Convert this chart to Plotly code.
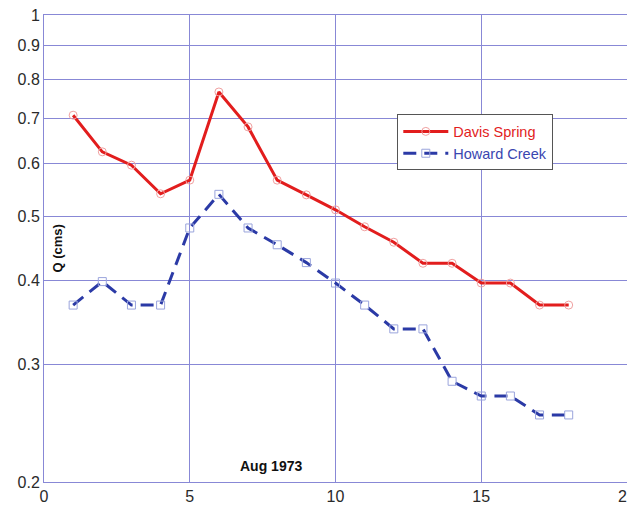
import plotly.graph_objects as go

days = list(range(1, 19))
davis_spring = [0.708, 0.624, 0.596, 0.540, 0.566, 0.767, 0.680, 0.566, 0.538, 0.511,
                0.482, 0.457, 0.425, 0.425, 0.397, 0.397, 0.368, 0.368]
howard_creek = [0.368, 0.399, 0.368, 0.368, 0.480, 0.539, 0.480, 0.453, 0.426, 0.397,
                0.368, 0.339, 0.339, 0.283, 0.269, 0.269, 0.252, 0.252]
y_ticks = [0.2, 0.3, 0.4, 0.5, 0.6, 0.7, 0.8, 0.9, 1]
y_tick_labels = ["0.2", "0.3", "0.4", "0.5", "0.6", "0.7", "0.8", "0.9", "1"]
x_ticks = [0, 5, 10, 15, 20]

grid = "#8888d6"
fig = go.Figure()
fig.add_trace(go.Scatter(
    x=days, y=davis_spring, name="<span style='color:#e21d1d'>Davis Spring</span>",
    mode="lines+markers",
    line=dict(color="#e21d1d", width=3),
    marker=dict(symbol="circle-open", size=8, color="#f0a0a0", line=dict(width=1)),
))
fig.add_trace(go.Scatter(
    x=days, y=howard_creek, name="<span style='color:#3a46b0'>Howard Creek</span>",
    mode="lines+markers",
    line=dict(color="#2b3aa6", width=3, dash="13px,8px"),
    marker=dict(symbol="square-open", size=8, color="#9aa4dc", line=dict(width=1)),
))

fig.update_layout(
    width=627, height=499,
    margin=dict(l=36, r=8, t=7, b=25, autoexpand=False),
    plot_bgcolor="white", paper_bgcolor="white",
    font=dict(family="Liberation Sans, Arial, sans-serif", size=16, color="#2a2a2a"),
    showlegend=True,
    legend=dict(x=0.606, y=0.787, xanchor="left", yanchor="top",
                bgcolor="white", bordercolor="#555555", borderwidth=1,
                font=dict(size=14.5), tracegroupgap=0, itemwidth=45),
    xaxis=dict(range=[0, 20], tickvals=x_ticks, showgrid=True, gridcolor=grid, gridwidth=1,
               showline=True, linecolor=grid, mirror=True, zeroline=False, ticks="",
               automargin=False, ticklabeloverflow="allow"),
    yaxis=dict(type="log", range=[-0.69897, 0], tickvals=y_ticks, ticktext=y_tick_labels,
               showgrid=True, gridcolor=grid, gridwidth=1, showline=True, linecolor=grid,
               mirror=True, ticks="", zeroline=False, automargin=False,
               ticklabeloverflow="allow"),
    annotations=[
        dict(text="<b>Q (cms)</b>", x=0.024, y=0.50, xref="paper", yref="paper",
             xanchor="center", yanchor="middle",
             textangle=-90, showarrow=False, font=dict(size=13, color="#111111")),
        dict(text="<b>Aug 1973</b>", x=0.389, y=0.034, xref="paper", yref="paper",
             xanchor="center", yanchor="middle",
             showarrow=False, font=dict(size=14, color="#111111")),
    ],
)

fig.write_html("out.html")
